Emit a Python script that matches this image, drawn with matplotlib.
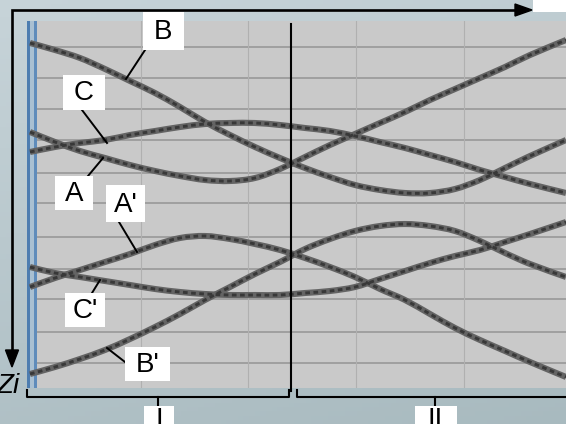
import numpy as np
import matplotlib
matplotlib.use("Agg")
import matplotlib.pyplot as plt
from matplotlib.patches import Rectangle, Polygon, PathPatch
from matplotlib.path import Path

plt.rcParams['font.family'] = ['Liberation Sans', 'DejaVu Sans']

# ---- data (x: position along t, z: depth Zi, both in plot units) ----
x_pos = [3, 28, 53, 78, 103, 128, 153, 178, 203, 228, 253, 278, 303, 328, 353, 378, 403, 428, 453, 478, 503, 539]
curve_A = [111, 121, 130, 137, 144, 150, 155, 159, 160, 157, 148, 136, 124, 113, 102, 91, 79, 68, 57, 46, 34, 19]
curve_B = [22, 29, 37, 48, 60, 72, 86, 101, 114, 126, 137, 147, 156, 164, 169, 172, 172, 168, 159, 147, 135, 119]
curve_C = [131, 126, 122, 119, 114, 110, 106, 103, 102, 102, 104, 107, 110, 115, 121, 127, 134, 141, 149, 156, 163, 172]
curve_A2 = [266, 257, 249, 241, 233, 224, 217, 215, 218, 223, 229, 237, 246, 256, 268, 279, 293, 307, 319, 330, 341, 356]
curve_B2 = [353, 346, 338, 329, 318, 306, 293, 279, 266, 253, 241, 228, 218, 210, 205, 203, 205, 210, 220, 232, 243, 256]
curve_C2 = [246, 252, 256, 260, 264, 268, 271, 273, 274, 274, 274, 272, 270, 266, 258, 250, 242, 235, 229, 221, 213, 201]
curve_labels = ["A", "B", "C", "A'", "B'", "C'"]
section_labels = ["I", "II"]
axis_label = "Zi"

W, H = 566, 424
fig = plt.figure(figsize=(W / 100, H / 100), dpi=100)

# background gradient
bg = fig.add_axes([0, 0, 1, 1], zorder=0)
gy, gx = np.mgrid[0:1:100j, 0:1:100j]
top = np.array([0.78, 0.83, 0.85])
bot = np.array([0.66, 0.73, 0.75])
t = np.clip(0.75 * gy + 0.25 * gx, 0, 1)[..., None]
img = top * (1 - t) + bot * t
bg.imshow(img, extent=[0, 1, 0, 1], aspect='auto', origin='upper')
bg.set_axis_off()

# main plot area
ax = fig.add_axes([27 / W, 1 - 388 / H, (566 - 27) / W, (388 - 21) / H], zorder=1)
ax.set_facecolor('#c9c9c9')
ax.set_xlim(0, 539)
ax.set_ylim(367, 0)
for s in ax.spines.values():
    s.set_visible(False)
ax.set_xticks([])
ax.set_yticks([])

for yv in [26, 57, 88, 119, 152, 182, 216, 248, 278, 311, 342]:
    ax.axhline(yv, color='#9c9c9c', lw=1.3, zorder=1)
for xv in [114, 221, 329, 437]:
    ax.axvline(xv, color='#b0b0b0', lw=0.8, zorder=1)

ax.axvspan(0, 2.5, color='#4d7db0', zorder=1.5, lw=0)
ax.axvspan(2.5, 7, color='#a9c0d2', zorder=1.5, lw=0)
ax.axvspan(7, 9.5, color='#5f8cbb', zorder=1.5, lw=0)


def smooth_path(xs, ys):
    """Catmull-Rom spline through the points, as a cubic Bezier path."""
    P = np.column_stack([xs, ys]).astype(float)
    n = len(P)
    verts = [P[0]]
    codes = [Path.MOVETO]
    for i in range(n - 1):
        p0 = P[i - 1] if i > 0 else P[i]
        p1 = P[i]
        p2 = P[i + 1]
        p3 = P[i + 2] if i + 2 < n else P[i + 1]
        c1 = p1 + (p2 - p0) / 6.0
        c2 = p2 - (p3 - p1) / 6.0
        verts += [c1, c2, p2]
        codes += [Path.CURVE4] * 3
    return Path(verts, codes)


for c in [curve_A, curve_B, curve_C, curve_A2, curve_B2, curve_C2]:
    path = smooth_path(x_pos, c)
    ax.add_patch(PathPatch(path, fill=False, edgecolor='#646464', lw=4.4,
                           capstyle='butt', zorder=3))
    ax.add_patch(PathPatch(path, fill=False, edgecolor='#383838', lw=2.1,
                           linestyle=(0, (1.6, 1.2)), zorder=4))

# overlay in pixel coordinates
ov = fig.add_axes([0, 0, 1, 1], zorder=5)
ov.set_xlim(0, W)
ov.set_ylim(H, 0)
ov.set_axis_off()
ov.patch.set_alpha(0)

k = 'black'
# axis arrows
ov.plot([12, 12, 517], [352, 10, 10], color=k, lw=1.9, solid_joinstyle='miter')
ov.add_patch(Polygon([(515, 4), (532, 10), (515, 16)], closed=True, color=k))
ov.add_patch(Polygon([(5.5, 350), (12, 367), (18.5, 350)], closed=True, color=k))
ov.text(-3, 386, axis_label, fontsize=20, style='italic', ha='left', va='center')

# separator line
ov.plot([290.6, 290.6], [24, 391], color=k, lw=1.5)

# brackets
ov.plot([27, 27, 289, 289], [390, 397, 397, 390], color=k, lw=1.5)
ov.plot([297, 297, 570], [390, 397, 397], color=k, lw=1.5)
ov.plot([158, 158], [397, 408], color=k, lw=1.5)
ov.plot([435, 435], [397, 408], color=k, lw=1.5)

# white label boxes
boxes = {
    "B": (143, 12, 184, 50),
    "C": (63, 75, 105, 110),
    "A": (55, 176, 93, 210),
    "A'": (106, 185, 145, 222),
    "C'": (65, 293, 105, 327),
    "B'": (125, 347, 170, 381),
}
leaders = {
    "B": ((147, 47), (126, 79)),
    "C": ((82, 110), (107, 143)),
    "A": ((88, 176), (103, 158)),
    "A'": ((119, 222), (137, 252)),
    "C'": ((92, 293), (100, 280)),
    "B'": ((125, 362), (107, 348)),
}
for lab in curve_labels:
    (p0, p1) = leaders[lab]
    ov.plot([p0[0], p1[0]], [p0[1], p1[1]], color=k, lw=1.4, zorder=5)
    x0, y0, x1, y1 = boxes[lab]
    ov.add_patch(Rectangle((x0, y0), x1 - x0, y1 - y0, facecolor='white', edgecolor='none', zorder=6))
    ov.text((x0 + x1) / 2, (y0 + y1) / 2 + 1, lab, fontsize=20, ha='center', va='center', zorder=7)

# section label boxes (cut off at the bottom edge)
ov.add_patch(Rectangle((144, 406), 30, 30, facecolor='white', edgecolor='none', zorder=6))
ov.add_patch(Rectangle((415, 406), 42, 30, facecolor='white', edgecolor='none', zorder=6))
ov.text(159, 407, section_labels[0], fontsize=20, ha='center', va='top', zorder=7)
ov.text(435, 407, section_labels[1], fontsize=20, ha='center', va='top', zorder=7)

# top-right cut-off label box
ov.add_patch(Rectangle((533, -5), 40, 17, facecolor='white', edgecolor='none', zorder=6))

fig.savefig('out.png', dpi=100)
